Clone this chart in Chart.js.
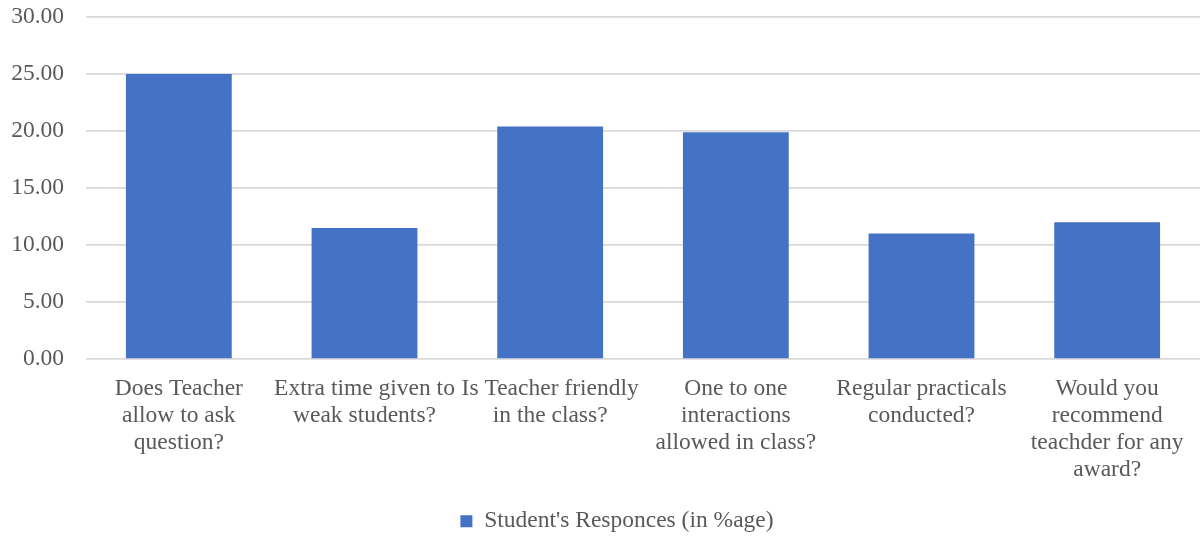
<!DOCTYPE html>
<html>
<head>
<meta charset="utf-8">
<script src="https://cdn.jsdelivr.net/npm/chart.js@4/dist/chart.umd.min.js"></script>
<style>
  html, body { margin: 0; padding: 0; background: #fff; }
  #wrap { width: 1201px; height: 538px; position: relative; }
</style>
</head>
<body>
<div id="wrap"><canvas id="myChart"></canvas></div>
<script>
const categories = [
    ['Does Teacher', 'allow to ask', 'question?'],
    ['Extra time given to', 'weak students?'],
    ['Is Teacher friendly', 'in the class?'],
    ['One to one', 'interactions', 'allowed in class?'],
    ['Regular practicals', 'conducted?'],
    ['Would you', 'recommend', 'teachder for any', 'award?']
];
const responses = [25.0, 11.5, 20.4, 19.9, 11.0, 12.0];
const seriesName = "Student's Responces (in %age)";
const yTicks = { min: 0, max: 30, step: 5 };

const textColor = '#595959';
const serif = "'Liberation Serif', 'Times New Roman', serif";

// legend sits a bit right of centre in the original
const nudgeLegend = {
    id: 'nudgeLegend',
    afterLayout(chart) {
        const lg = chart.legend;
        if (!lg) return;
        lg.left += 17; lg.right += 17;
    }
};

new Chart(document.getElementById('myChart'), {
    type: 'bar',
    data: {
        labels: categories,
        datasets: [{
            label: seriesName,
            data: responses,
            backgroundColor: '#4472C4',
            borderWidth: 0,
            categoryPercentage: 0.57,
            barPercentage: 1
        }]
    },
    options: {
        responsive: true,
        maintainAspectRatio: false,
        animation: false,
        layout: { padding: { top: 17, right: 1, left: 0, bottom: -5 } },
        plugins: {
            tooltip: { enabled: false },
            legend: {
                position: 'bottom',
                labels: {
                    color: textColor,
                    font: { family: serif, size: 23.5 },
                    boxWidth: 12, boxHeight: 12,
                    padding: 3
                }
            }
        },
        scales: {
            x: {
                grid: { display: false, drawTicks: false },
                border: { display: false },
                ticks: {
                    color: textColor,
                    font: { family: serif, size: 23.5, lineHeight: 1.15 },
                    padding: 16.5,
                    maxRotation: 0, autoSkip: false
                },
                afterFit: s => { s.height = 147.5; }
            },
            y: {
                min: yTicks.min, max: yTicks.max,
                grid: { color: '#d9d9d9', lineWidth: 1.7, drawTicks: false },
                border: { display: false },
                ticks: {
                    stepSize: yTicks.step,
                    color: textColor,
                    font: { family: serif, size: 23.5 },
                    padding: 22,
                    callback: v => Number(v).toFixed(2)
                },
                afterFit: s => { s.width = 86; s.paddingTop = 0; s.paddingBottom = 0; }
            }
        }
    },
    plugins: [nudgeLegend]
});
</script>
</body>
</html>
